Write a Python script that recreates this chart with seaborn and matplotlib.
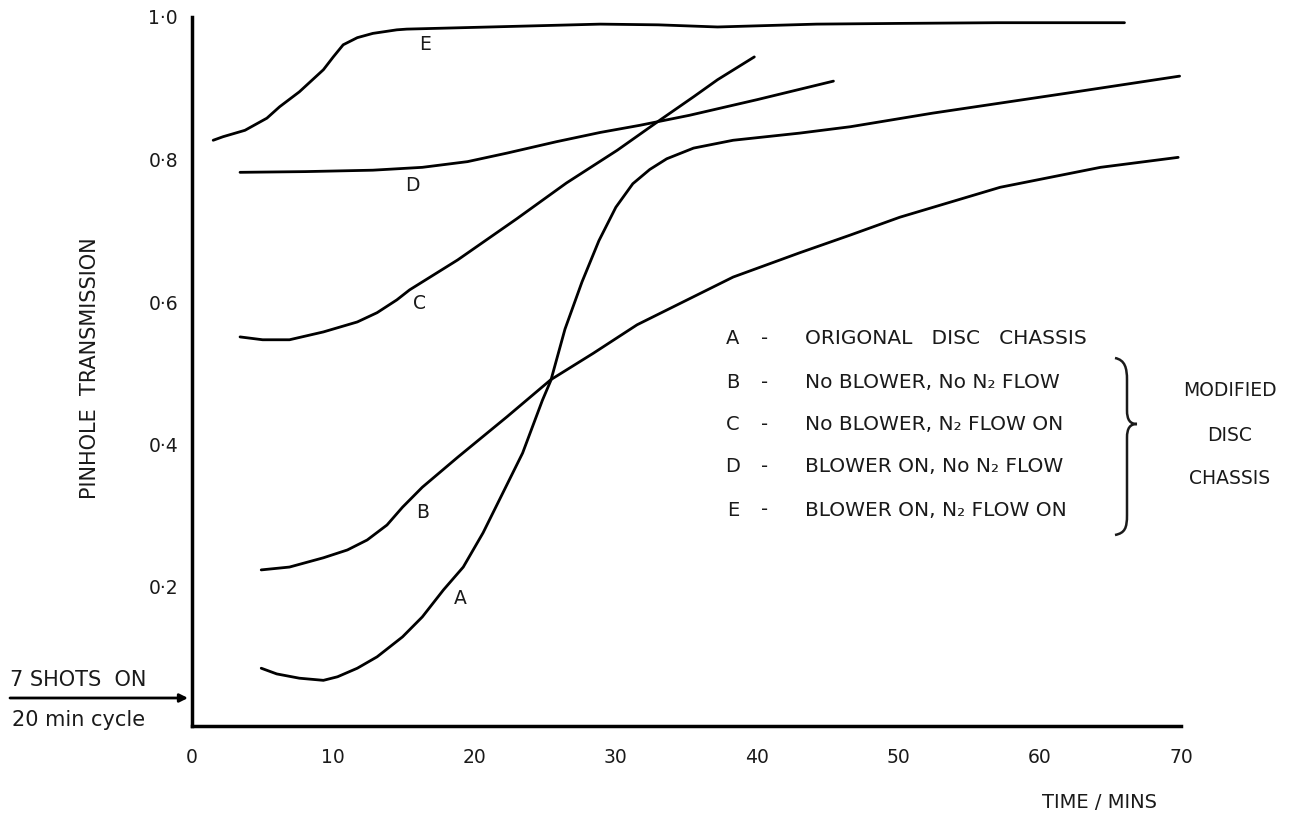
import pandas as pd
import seaborn as sns
import matplotlib.pyplot as plt
from matplotlib.path import Path
from matplotlib.patches import PathPatch

# Curve data (time in minutes, pinhole transmission)
time_a = [4.9, 6.0, 7.6, 9.3, 10.3, 11.7, 13.1, 14.9, 16.3, 17.8, 19.2, 20.6, 22.0, 23.4,
          24.8, 25.4, 26.4, 27.6, 28.8, 30.0, 31.2, 32.4, 33.6, 35.5, 38.3, 43.0, 46.6,
          52.4, 61.9, 69.9]
trans_a = [0.086, 0.078, 0.072, 0.069, 0.074, 0.086, 0.102, 0.130, 0.158, 0.196, 0.228, 0.276,
           0.332, 0.388, 0.462, 0.490, 0.562, 0.628, 0.686, 0.733, 0.766, 0.786, 0.801, 0.816,
           0.827, 0.837, 0.846, 0.865, 0.893, 0.917]

time_b = [4.9, 6.9, 9.3, 11.0, 12.4, 13.8, 14.9, 16.3, 18.8, 22.3, 25.4, 28.4, 31.5, 38.3,
          43.0, 46.6, 50.1, 57.2, 64.3, 69.8]
trans_b = [0.224, 0.228, 0.241, 0.252, 0.266, 0.287, 0.312, 0.340, 0.382, 0.439, 0.491, 0.528,
           0.568, 0.635, 0.669, 0.694, 0.719, 0.761, 0.789, 0.803]

time_c = [3.4, 5.0, 6.9, 9.3, 11.7, 13.1, 14.5, 15.4, 17.1, 18.8, 23.0, 26.5, 30.1, 33.1,
          35.5, 37.2, 39.8]
trans_c = [0.551, 0.547, 0.547, 0.558, 0.572, 0.585, 0.603, 0.617, 0.638, 0.659, 0.717, 0.767,
           0.813, 0.855, 0.888, 0.912, 0.944]

time_d = [3.4, 8.0, 12.8, 16.3, 19.5, 22.3, 25.8, 28.9, 31.7, 35.2, 40.0, 45.4]
trans_d = [0.782, 0.783, 0.785, 0.789, 0.797, 0.809, 0.825, 0.838, 0.848, 0.862, 0.884, 0.910]

time_e = [1.5, 2.2, 3.75, 5.3, 6.2, 7.6, 9.3, 10.0, 10.7, 11.7, 12.8, 14.5, 15.2, 21.1, 28.9,
          33.0, 37.2, 44.2, 50.0, 57.0, 66.0]
trans_e = [0.827, 0.832, 0.841, 0.858, 0.874, 0.895, 0.926, 0.944, 0.961, 0.971, 0.977, 0.982,
           0.983, 0.986, 0.990, 0.989, 0.986, 0.990, 0.991, 0.992, 0.992]

curve_names = ["A", "B", "C", "D", "E"]
legend_texts = ["ORIGONAL   DISC   CHASSIS",
                "No BLOWER, No N₂ FLOW",
                "No BLOWER, N₂ FLOW ON",
                "BLOWER ON, No N₂ FLOW",
                "BLOWER ON, N₂ FLOW ON"]
x_ticks = [0, 10, 20, 30, 40, 50, 60, 70]
y_ticks = [0.2, 0.4, 0.6, 0.8, 1.0]
y_tick_labels = ["0·2", "0·4", "0·6", "0·8", "1·0"]

# where the curve letters sit
label_x = [19.0, 16.3, 16.1, 15.6, 16.5]
label_y = [0.184, 0.304, 0.598, 0.764, 0.961]

W, H = 1290, 817


def fig_xy(px, py):
    # image pixel position -> figure fraction
    return px / W, 1 - py / H


def main():
    sns.set_style("white")
    plt.rcParams["font.family"] = ["DejaVu Sans"]
    ink = "#1a1a1a"

    parts = []
    for name, t, v in zip(curve_names,
                          [time_a, time_b, time_c, time_d, time_e],
                          [trans_a, trans_b, trans_c, trans_d, trans_e]):
        parts.append(pd.DataFrame({"time": t, "trans": v, "curve": name}))
    df = pd.concat(parts, ignore_index=True)

    fig = plt.figure(figsize=(W / 100, H / 100), dpi=100)
    ax = fig.add_axes([192 / W, 1 - 726 / H, 989 / W, 709 / H])

    sns.lineplot(data=df, x="time", y="trans", hue="curve", estimator=None,
                 palette=["black"] * 5, legend=False, linewidth=2.0, ax=ax)

    ax.set_xlim(0, 70)
    ax.set_ylim(1 - 709 / 712.5, 1.0)
    ax.set_xticks(x_ticks)
    ax.set_yticks(y_ticks)
    ax.set_yticklabels(y_tick_labels)
    for s in ["top", "right"]:
        ax.spines[s].set_visible(False)
    for s in ["left", "bottom"]:
        ax.spines[s].set_linewidth(2.5)
        ax.spines[s].set_color("black")
    ax.tick_params(axis="both", direction="in", length=7, width=2, colors=ink,
                   labelsize=13.5)
    ax.tick_params(axis="x", pad=16)
    ax.tick_params(axis="y", pad=10)

    ax.set_xlabel("TIME / MINS", fontsize=14, color=ink)
    ax.xaxis.set_label_coords(0.918, -0.095)
    ax.set_ylabel("PINHOLE  TRANSMISSION", fontsize=15, color=ink)
    ax.yaxis.set_label_coords(-0.093, 0.505)

    # curve letters
    for name, lx, ly in zip(curve_names, label_x, label_y):
        ax.text(lx, ly, name, fontsize=13.5, color=ink, ha="center", va="center")

    # key
    rows_py = [338, 382, 424, 466, 510]
    for name, txt, py in zip(curve_names, legend_texts, rows_py):
        fig.text(*fig_xy(733, py), name, fontsize=14, color=ink, ha="center", va="center")
        fig.text(*fig_xy(765, py), "-", fontsize=14, color=ink, ha="center", va="center")
        fig.text(*fig_xy(805, py), txt, fontsize=14.5, color=ink, ha="left", va="center")

    for txt, py in zip(["MODIFIED", "DISC", "CHASSIS"], [390, 435, 478]):
        fig.text(*fig_xy(1230, py), txt, fontsize=13.5, color=ink, ha="center", va="center")

    # curly brace grouping B-E
    pts = [(1115, 358), (1125, 360), (1127, 368), (1127, 380),
           (1127, 410),
           (1127, 420), (1130, 424), (1137, 424),
           (1130, 424), (1127, 428), (1127, 438),
           (1127, 515),
           (1127, 528), (1125, 533), (1115, 535)]
    codes = [Path.MOVETO, Path.CURVE4, Path.CURVE4, Path.CURVE4,
             Path.LINETO,
             Path.CURVE4, Path.CURVE4, Path.CURVE4,
             Path.CURVE4, Path.CURVE4, Path.CURVE4,
             Path.LINETO,
             Path.CURVE4, Path.CURVE4, Path.CURVE4]
    brace = Path([fig_xy(px, py) for px, py in pts], codes)
    fig.add_artist(PathPatch(brace, transform=fig.transFigure, fill=False,
                             lw=1.8, edgecolor=ink))

    # shots note with arrow at bottom left
    fig.text(*fig_xy(10, 680), "7 SHOTS  ON", fontsize=15, color=ink, ha="left", va="center")
    fig.text(*fig_xy(12, 720), "20 min cycle", fontsize=15, color=ink, ha="left", va="center")
    ax.annotate("", xy=fig_xy(188, 698), xytext=fig_xy(10, 698),
                xycoords="figure fraction", textcoords="figure fraction",
                arrowprops=dict(arrowstyle="-|>", lw=2, color="black",
                                mutation_scale=12, shrinkA=0, shrinkB=0))

    fig.savefig("out.png", dpi=100)


if __name__ == "__main__":
    main()
